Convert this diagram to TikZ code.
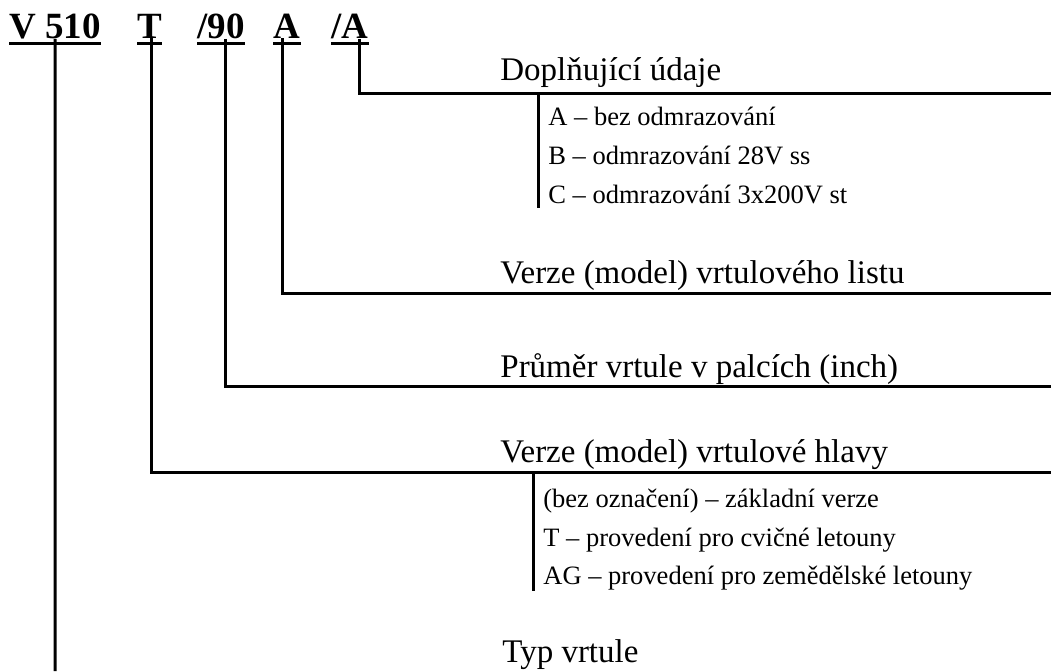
\documentclass[tikz,border=0pt]{standalone}
\usepackage{fontspec}
\setmainfont{Liberation Serif}
\usetikzlibrary{positioning}
\tikzset{bar/.style={line width=1.5pt}}
\tikzset{hdr/.style={anchor=base west,inner sep=0pt,font=\fontsize{18.5}{20}\selectfont\bfseries}}
\tikzset{lbl/.style={anchor=base west,inner sep=0pt,font=\fontsize{16.5}{19}\selectfont}}
\tikzset{sub/.style={anchor=base west,inner sep=0pt,font=\fontsize{13.25}{15}\selectfont}}
\newcommand{\Uline}[1]{\draw[bar] ([yshift=-2.5pt]#1.base west) -- ([yshift=-2.5pt]#1.base east);}

\begin{document}
\begin{tikzpicture}[x=0.5pt,y=-0.5pt]
\useasboundingbox (0,0) rectangle (1051,671);
% \draw[help lines] (0,0) grid (1051,671);
\node (v510) [hdr] at (9,38) {V 510};
\node (t) [hdr] at (137,38) {T};
\node (d90) [hdr] at (197,38) {/90};
\node (a) [hdr] at (273,38) {A};
\node (sa) [hdr] at (331,38) {/A};
\Uline{v510} \Uline{t} \Uline{d90} \Uline{a} \Uline{sa}
%
\node (dopl) [lbl] at (500,80) {Doplňující údaje};
\node (dopla) [sub] at (548,125) {A – bez odmrazování};
\node (doplb) [sub] at (548,164) {B – odmrazování 28V ss};
\node (doplc) [sub] at (548,203) {C – odmrazování 3x200V st};
\node (list) [lbl] at (500,283) {Verze (model) vrtulového listu};
\node (prum) [lbl] at (500,377) {Průměr vrtule v palcích (inch)};
\node (hlav) [lbl] at (500,462) {Verze (model) vrtulové hlavy};
\node (hlava) [sub] at (543,507) {(bez označení) – základní verze};
\node (hlavb) [sub] at (543,546) {T – provedení pro cvičné letouny};
\node (hlavc) [sub] at (543,584) {AG – provedení pro zemědělské letouny};
\node (typ) [lbl] at (502,662) {Typ vrtule};
%
\coordinate (kdopl) at (359,93);  \coordinate (edopl) at (1051,93);
\coordinate (klist) at (282,293); \coordinate (elist) at (1051,293);
\coordinate (kprum) at (225,386); \coordinate (eprum) at (1051,386);
\coordinate (khlav) at (151,472); \coordinate (ehlav) at (1051,472);
\coordinate (etyp) at (55,671);
\coordinate (ldopl) at (538,208);
\coordinate (lhlav) at (533,591);
%
\draw[bar] (sa.south -| kdopl) -- (kdopl) -- (edopl);
\draw[bar] (a.south -| klist) -- (klist) -- (elist);
\draw[bar] (d90.south -| kprum) -- (kprum) -- (eprum);
\draw[bar] (t.south -| khlav) -- (khlav) -- (ehlav);
\draw[bar] (v510.south) -- (etyp);
\draw[bar] (edopl -| ldopl) -- (ldopl);
\draw[bar] (ehlav -| lhlav) -- (lhlav);
\end{tikzpicture}
\end{document}
